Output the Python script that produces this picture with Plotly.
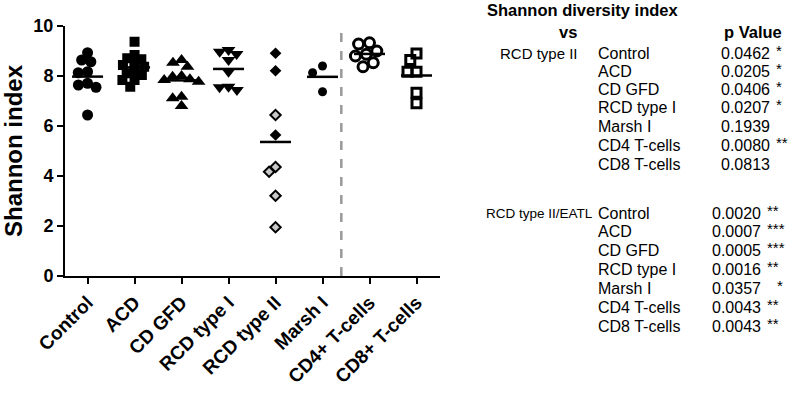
import plotly.graph_objects as go
import numpy as np

# ---------------- data ----------------
categories = ["Control", "ACD", "CD GFD", "RCD type I", "RCD type II",
              "Marsh I", "CD4+ T-cells", "CD8+ T-cells"]

control = [8.93, 8.64, 8.57, 8.17, 8.13, 7.71, 7.64, 7.55, 6.44]
acd = [9.37, 8.84, 8.71, 8.67, 8.51, 8.44, 8.37, 8.17, 8.11, 8.04, 7.84, 7.84, 7.57]
cd_gfd = [8.64, 8.53, 8.37, 8.00, 7.97, 7.87, 7.84, 7.77, 7.17, 7.11, 6.80]
rcd_type1 = [9.04, 8.97, 8.88, 8.64, 8.17, 7.57, 7.55, 7.44]
rcd_type2_a = [8.91, 8.21, 5.64]              # filled diamonds
rcd_type2_b = [6.44, 4.36, 4.17, 3.21, 1.95]  # grey diamonds
marsh1 = [8.40, 8.13, 7.37]
cd4 = [9.33, 9.28, 9.00, 8.87, 8.80, 8.53, 8.37]
cd8 = [8.90, 8.64, 8.17, 8.17, 7.33, 6.91]

yticks = [0, 2, 4, 6, 8, 10]

table_title = "Shannon diversity index"
col_vs = "vs"
col_p = "p Value"
group1 = "RCD type II"
group2 = "RCD type II/EATL"
comparisons = ["Control", "ACD", "CD GFD", "RCD type I", "Marsh I",
               "CD4 T-cells", "CD8 T-cells"]
p_group1 = ["0.0462", "0.0205", "0.0406", "0.0207", "0.1939", "0.0080", "0.0813"]
s_group1 = ["*", "*", "*", "*", "", "**", ""]
p_group2 = ["0.0020", "0.0007", "0.0005", "0.0016", "0.0357", "0.0043", "0.0043"]
s_group2 = ["**", "***", "***", "**", "*", "**", "**"]

# ---------------- layout constants ----------------
W, H = 799, 400
L, R, T, B = 65, 440, 26, 276
XR = [-0.48, 7.5]
YR = [0, 10]
px_per_cat = (R - L) / (XR[1] - XR[0])
px_per_y = (B - T) / (YR[1] - YR[0])
FONT = "Liberation Sans, Arial, sans-serif"


def beeswarm(values, diam_px):
    """x offsets (category units) so markers don't overlap."""
    placed = []
    offs = []
    for v in values:
        y = v * px_per_y
        cands = [0.0]
        for (px, py) in placed:
            dy = abs(py - y)
            if dy < diam_px:
                dx = np.sqrt(diam_px ** 2 - dy ** 2)
                cands += [px - dx, px + dx]
        best = 0.0
        for c in sorted(cands, key=lambda c: (abs(c), c)):
            if all((c - px) ** 2 + (y - py) ** 2 >= diam_px ** 2 - 1e-6
                   for px, py in placed):
                best = c
                break
        placed.append((best, y))
        offs.append(best / px_per_cat)
    return offs


fig = go.Figure()


def add_group(idx, vals, symbol, size, color="black", line_color="black",
              line_width=0, diam=None):
    d = diam if diam is not None else size * 0.85
    offs = beeswarm(vals, d)
    fig.add_trace(go.Scatter(
        x=[idx + o for o in offs], y=vals, mode="markers",
        marker=dict(symbol=symbol, size=size, color=color,
                    line=dict(color=line_color, width=line_width)),
        showlegend=False, hoverinfo="y"))


add_group(0, control, "circle", 11)
add_group(1, acd, "square", 10, diam=8)
add_group(2, cd_gfd, "triangle-up", 12, diam=9)
add_group(3, rcd_type1, "triangle-down", 12, diam=9)

# RCD type II: two kinds of diamonds sharing one swarm
rcd2_all = rcd_type2_a + rcd_type2_b
offs2 = beeswarm(rcd2_all, 8)
na = len(rcd_type2_a)
fig.add_trace(go.Scatter(
    x=[4 + o for o in offs2[:na]], y=rcd_type2_a, mode="markers",
    marker=dict(symbol="diamond", size=9, color="black"),
    showlegend=False))
fig.add_trace(go.Scatter(
    x=[4 + o for o in offs2[na:]], y=rcd_type2_b, mode="markers",
    marker=dict(symbol="diamond", size=8, color="#c8c8c8",
                line=dict(color="black", width=2)),
    showlegend=False))

add_group(5, marsh1, "circle", 9, diam=12)
add_group(6, cd4, "circle-open", 10, line_width=3, diam=11)
add_group(7, cd8, "square-open", 9, line_width=3, diam=9)

# mean lines
groups = [control, acd, cd_gfd, rcd_type1, rcd2_all, marsh1, cd4, cd8]
for i, g in enumerate(groups):
    m = float(np.mean(g))
    fig.add_trace(go.Scatter(x=[i - 0.33, i + 0.33], y=[m, m], mode="lines",
                             line=dict(color="black", width=2.5),
                             showlegend=False, hoverinfo="skip"))

# separator dashed line
fig.add_shape(type="line", x0=5.4, x1=5.4, y0=0, y1=1, xref="x", yref="paper",
              line=dict(color="#999999", width=2.5, dash="dash"))

fig.update_layout(
    width=W, height=H,
    margin=dict(l=L, r=W - R, t=T, b=H - B, pad=0),
    paper_bgcolor="white", plot_bgcolor="white",
    font=dict(family=FONT, color="black"),
    xaxis=dict(range=XR, tickvals=list(range(len(categories))),
               ticktext=categories, tickangle=-45, automargin=False,
               tickfont=dict(size=19, weight="bold", family=FONT),
               showline=True, linecolor="black", linewidth=2,
               ticks="outside", ticklen=6, tickwidth=2, tickcolor="black",
               showgrid=False, zeroline=False),
    yaxis=dict(range=YR, tickvals=yticks, ticktext=[str(t) for t in yticks],
               automargin=False,
               tickfont=dict(size=18, weight="bold", family=FONT),
               showline=True, linecolor="black", linewidth=2,
               ticks="outside", ticklen=6, tickwidth=2, tickcolor="black",
               showgrid=False, zeroline=False,
               title=dict(text="Shannon index", standoff=12,
                          font=dict(size=24, weight="bold", family=FONT))),
)


def px2paper(px, py):
    return (px - L) / (R - L), (B - py) / (B - T)


def text_at(px, py, txt, size=16, bold=False, yshift=0):
    x, y = px2paper(px, py)
    fig.add_annotation(x=x, y=y, xref="paper", yref="paper", text=txt,
                       showarrow=False, xanchor="left", yanchor="middle",
                       yshift=yshift, borderpad=0, borderwidth=0,
                       font=dict(size=size, family=FONT, color="black",
                                 weight="bold" if bold else "normal"))


text_at(487, 10, table_title, size=16.5, bold=True)
text_at(559, 32, col_vs, size=16.5, bold=True)
text_at(724, 32, col_p, size=16.5, bold=True)

text_at(500, 53, group1, size=15)
row_y1 = [53, 71, 89.5, 108, 126.5, 145, 164]
for k, (c, p, s) in enumerate(zip(comparisons, p_group1, s_group1)):
    text_at(598, row_y1[k], c)
    text_at(721, row_y1[k], p)
    if s:
        text_at(776, row_y1[k], s, size=15, yshift=3)

text_at(486, 213, group2, size=13.5)
row_y2 = [213, 231.5, 250, 269, 288, 307, 326]
for k, (c, p, s) in enumerate(zip(comparisons, p_group2, s_group2)):
    text_at(598, row_y2[k], c)
    text_at(712, row_y2[k], p)
    if s:
        sx = 777 if len(s) == 1 else 767
        text_at(sx, row_y2[k], s, size=15, yshift=3)

fig.write_html("out.html", config={"displayModeBar": False},
               post_script="document.body.style.margin='0';")
